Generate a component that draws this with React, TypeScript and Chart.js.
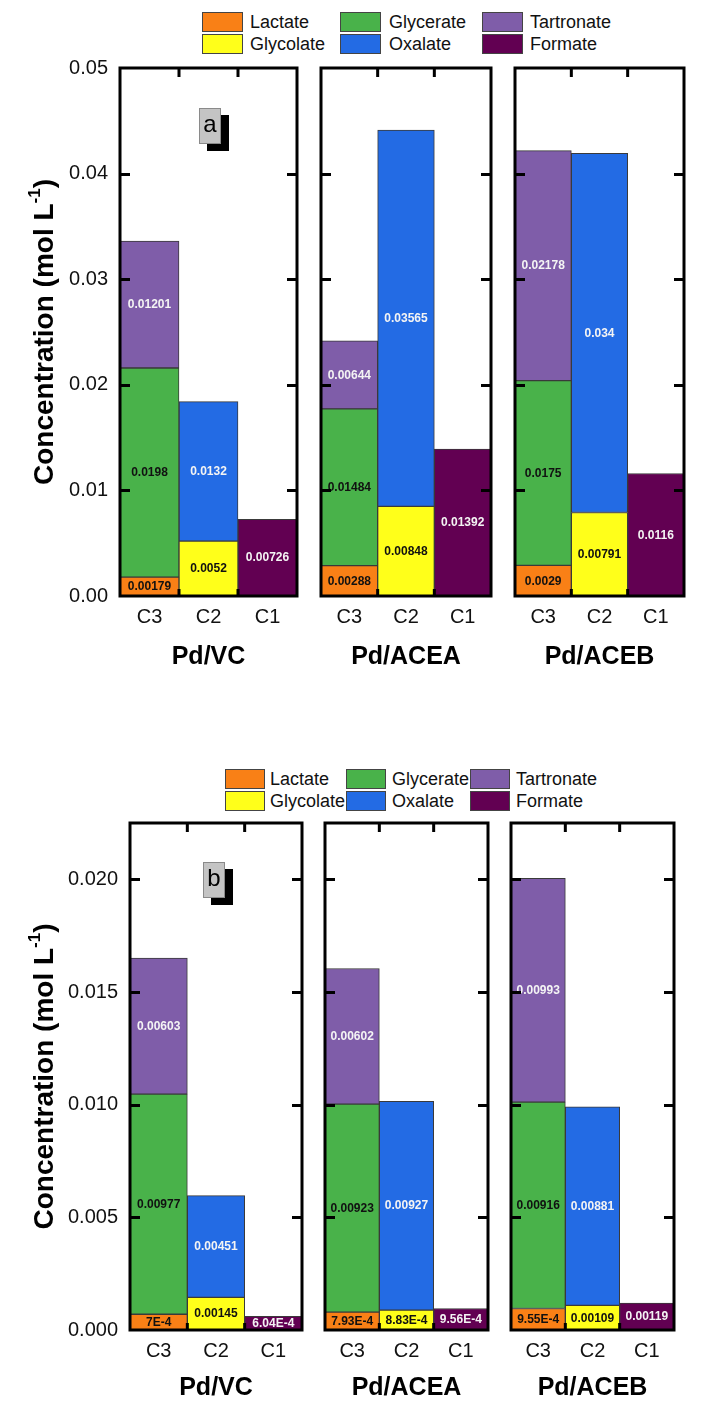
import React, { useEffect, useRef } from 'react';
import { Chart, registerables } from 'chart.js';

Chart.register(...registerables);

const FONT = "'Liberation Sans', Arial, Helvetica, sans-serif";

// ---------- data ----------
const categories = ['C3', 'C2', 'C1'];
const panelNames = ['Pd/VC', 'Pd/ACEA', 'Pd/ACEB'];
const seriesNames = ['Lactate', 'Glycolate', 'Glycerate', 'Oxalate', 'Tartronate', 'Formate'];
const seriesCategory = [0, 1, 0, 1, 0, 2]; // which bar (C3, C2, C1) each series stacks in
const seriesColors = ['#F98016', '#FFFF1A', '#49B24A', '#236BE4', '#7F5DA9', '#620052'];
const labelColors = ['#111111', '#111111', '#111111', '#F4F4F4', '#F4F4F4', '#F4F4F4'];

// row (a): values per catalyst [Pd/VC, Pd/ACEA, Pd/ACEB]
const aLactate = [0.00179, 0.00288, 0.0029];
const aGlycolate = [0.0052, 0.00848, 0.00791];
const aGlycerate = [0.0198, 0.01484, 0.0175];
const aOxalate = [0.0132, 0.03565, 0.034];
const aTartronate = [0.01201, 0.00644, 0.02178];
const aFormate = [0.00726, 0.01392, 0.0116];

// row (b)
const bLactate = [0.0007, 0.000793, 0.000955];
const bGlycolate = [0.00145, 0.000883, 0.00109];
const bGlycerate = [0.00977, 0.00923, 0.00916];
const bOxalate = [0.00451, 0.00927, 0.00881];
const bTartronate = [0.00603, 0.00602, 0.00993];
const bFormate = [0.000604, 0.000956, 0.00119];

const aTickLabels = ['0.00', '0.01', '0.02', '0.03', '0.04', '0.05'];
const bTickLabels = ['0.000', '0.005', '0.010', '0.015', '0.020'];

const rowA = {
  letter: 'a',
  series: [aLactate, aGlycolate, aGlycerate, aOxalate, aTartronate, aFormate],
  max: 0.05,
  step: 0.01,
  tickLabels: aTickLabels,
  lefts: [120, 313, 507],
  rights: [297, 491, 684],
  top: 68,
  bottom: 596,
  bottomPad: 82,
  titlePad: 6,
  legendTop: 12,
  legendSw: [202, 340, 482],
  legendTx: [250, 389, 530],
  legendW: 41,
  boxOff: [79, 40],
};
const rowB = {
  letter: 'b',
  series: [bLactate, bGlycolate, bGlycerate, bOxalate, bTartronate, bFormate],
  max: 0.0225,
  step: 0.005,
  tickLabels: bTickLabels,
  lefts: [130, 317, 503],
  rights: [302, 488, 674],
  top: 823,
  bottom: 1330,
  bottomPad: 80,
  titlePad: 7,
  legendTop: 769,
  legendSw: [225, 346, 470],
  legendTx: [270, 392, 516],
  legendW: 40,
  boxOff: [73, 39],
};

function fmt(v: number): string {
  if (v < 0.001) return parseFloat((v * 1e4).toPrecision(3)) + 'E-4';
  return String(v);
}

// ---------- plugins ----------
const labelPlugin = {
  id: 'segLabels',
  afterDatasetsDraw(chart: any) {
    const ctx = chart.ctx;
    ctx.save();
    ctx.font = `bold 12px ${FONT}`;
    ctx.textAlign = 'center';
    ctx.textBaseline = 'middle';
    chart.data.datasets.forEach((ds: any, di: number) => {
      const meta = chart.getDatasetMeta(di);
      meta.data.forEach((el: any, i: number) => {
        const v = ds.data[i];
        if (v == null) return;
        const p = el.getProps(['x', 'y', 'base'], true);
        ctx.fillStyle = ds.labelColor;
        ctx.fillText(fmt(v), p.x, (p.y + p.base) / 2 + 0.5);
      });
    });
    ctx.restore();
  },
};

const framePlugin = {
  id: 'frameTicks',
  afterDraw(chart: any, _args: any, opts: any) {
    const ctx = chart.ctx;
    const { left, right, top, bottom } = chart.chartArea;
    const ys = chart.scales.y;
    const xs = chart.scales.x;
    ctx.save();
    ctx.strokeStyle = '#000';
    ctx.lineWidth = 3;
    ctx.beginPath();
    ys.ticks.forEach((t: any) => {
      if (t.value <= ys.min + 1e-12 || t.value >= ys.max - 1e-12) return;
      const y = Math.round(ys.getPixelForValue(t.value)) + 0.5;
      ctx.moveTo(left, y);
      ctx.lineTo(left + 10, y);
      ctx.moveTo(right - 10, y);
      ctx.lineTo(right, y);
    });
    for (let i = 0; i < categories.length - 1; i++) {
      const xb = (xs.getPixelForValue(i) + xs.getPixelForValue(i + 1)) / 2;
      ctx.moveTo(xb, top);
      ctx.lineTo(xb, top + 9);
      ctx.moveTo(xb, bottom);
      ctx.lineTo(xb, bottom - 7);
    }
    ctx.stroke();
    ctx.strokeRect(left, top, right - left, bottom - top);

    if (opts && opts.first) {
      // letter box
      const bx = left + opts.boxOff[0];
      const by = top + opts.boxOff[1];
      ctx.fillStyle = '#000';
      ctx.fillRect(bx + 8, by + 7, 22, 36);
      ctx.fillStyle = '#C4C4C4';
      ctx.fillRect(bx, by, 22, 36);
      ctx.lineWidth = 1;
      ctx.strokeStyle = '#8A8A8A';
      ctx.strokeRect(bx + 0.5, by + 0.5, 21, 35);
      ctx.fillStyle = '#000';
      ctx.font = `24px ${FONT}`;
      ctx.textAlign = 'center';
      ctx.textBaseline = 'middle';
      ctx.fillText(opts.letter, bx + 11, by + 17);

      // y title with superscript
      const cy = (top + bottom) / 2;
      ctx.translate(45, cy);
      ctx.rotate(-Math.PI / 2);
      const main = 'Concentration (mol L';
      const sup = '-1';
      const end = ')';
      const fMain = `bold 28px ${FONT}`;
      const fSup = `bold 17px ${FONT}`;
      ctx.font = fMain;
      const w1 = ctx.measureText(main).width;
      const w3 = ctx.measureText(end).width;
      ctx.font = fSup;
      const w2 = ctx.measureText(sup).width;
      const total = w1 + w2 + w3;
      const x0 = -total / 2;
      ctx.textAlign = 'left';
      ctx.textBaseline = 'middle';
      ctx.font = fMain;
      ctx.fillText(main, x0, 0);
      ctx.font = fSup;
      ctx.fillText(sup, x0 + w1, -10);
      ctx.font = fMain;
      ctx.fillText(end, x0 + w1 + w2, 0);
    }
    ctx.restore();
  },
};

// ---------- components ----------
function Panel({ row, idx }: { row: any; idx: number }) {
  const ref = useRef<HTMLCanvasElement | null>(null);
  const first = idx === 0;
  const LP = first ? row.lefts[0] : 8;
  const TP = 16;
  const RP = 6;
  const frameW = row.rights[idx] - row.lefts[idx];
  const frameH = row.bottom - row.top;
  const width = LP + frameW + RP;
  const height = TP + frameH + row.bottomPad;
  const canvasLeft = row.lefts[idx] - LP;
  const canvasTop = row.top - TP;

  useEffect(() => {
    if (!ref.current) return;
    const datasets = seriesNames.map((name, si) => {
      const data: (number | null)[] = categories.map((_, ci) =>
        seriesCategory[si] === ci ? row.series[si][idx] : null
      );
      return {
        label: name,
        data,
        backgroundColor: seriesColors[si],
        borderColor: '#3A3A3A',
        borderWidth: 1,
        borderSkipped: false,
        barPercentage: 1,
        categoryPercentage: 1,
        labelColor: labelColors[si],
      } as any;
    });
    const chart = new Chart(ref.current, {
      type: 'bar',
      data: { labels: categories, datasets },
      plugins: [labelPlugin, framePlugin],
      options: {
        responsive: false,
        maintainAspectRatio: false,
        animation: false,
        layout: { padding: { top: TP, right: RP, left: first ? 0 : LP, bottom: 0 } },
        plugins: {
          legend: { display: false },
          tooltip: { enabled: false },
          frameTicks: { first, letter: row.letter, boxOff: row.boxOff },
        } as any,
        scales: {
          x: {
            stacked: true,
            grid: { display: false, drawTicks: false },
            border: { display: false },
            ticks: { color: '#111', font: { size: 20, family: FONT }, padding: 9 },
            title: {
              display: true,
              text: panelNames[idx],
              color: '#000',
              font: { size: 25, weight: 'bold', family: FONT },
              padding: { top: 0, bottom: row.titlePad },
            },
            afterFit: (s: any) => {
              s.height = row.bottomPad;
              s.paddingLeft = 0;
              s.paddingRight = 0;
            },
          },
          y: {
            display: first,
            stacked: true,
            min: 0,
            max: row.max,
            grid: { display: false, drawTicks: false },
            border: { display: false },
            ticks: {
              stepSize: row.step,
              color: '#111',
              font: { size: 20, family: FONT },
              padding: 12,
              callback: (v: any) => {
                const k = Math.round(Number(v) / row.step);
                return row.tickLabels[k] ?? '';
              },
            },
            afterBuildTicks: (s: any) => {
              s.ticks = s.ticks.filter((t: any) => {
                const r = t.value / row.step;
                return Math.abs(r - Math.round(r)) < 1e-6;
              });
            },
            afterFit: (s: any) => {
              s.width = LP;
              s.paddingTop = 0;
              s.paddingBottom = 0;
            },
          },
        } as any,
      },
    });
    return () => chart.destroy();
  }, []);

  return (
    <canvas
      ref={ref}
      width={width}
      height={height}
      style={{ position: 'absolute', left: canvasLeft, top: canvasTop, width, height }}
    />
  );
}

function Legend({ row }: { row: any }) {
  const rows = [
    [0, 2, 4],
    [1, 3, 5],
  ];
  const items: any[] = [];
  rows.forEach((r, ri) => {
    r.forEach((si, ci) => {
      const top = row.legendTop + ri * 22;
      items.push(
        <div
          key={`s${si}`}
          style={{
            position: 'absolute',
            left: row.legendSw[ci],
            top,
            width: row.legendW - 2,
            height: 18,
            background: seriesColors[si],
            border: '1px solid #444',
          }}
        />
      );
      items.push(
        <div
          key={`t${si}`}
          style={{
            position: 'absolute',
            left: row.legendTx[ci],
            top: top - 1,
            height: 22,
            lineHeight: '22px',
            fontFamily: FONT,
            fontSize: 18,
            color: '#111',
            whiteSpace: 'nowrap',
          }}
        >
          {seriesNames[si]}
        </div>
      );
    });
  });
  return <>{items}</>;
}

export default function App() {
  return (
    <div
      style={{
        position: 'absolute',
        left: 0,
        top: 0,
        width: 716,
        height: 1411,
        background: '#fff',
        overflow: 'hidden',
      }}
    >
      <Legend row={rowA} />
      <Legend row={rowB} />
      {[0, 1, 2].map((i) => (
        <Panel key={`a${i}`} row={rowA} idx={i} />
      ))}
      {[0, 1, 2].map((i) => (
        <Panel key={`b${i}`} row={rowB} idx={i} />
      ))}
    </div>
  );
}
